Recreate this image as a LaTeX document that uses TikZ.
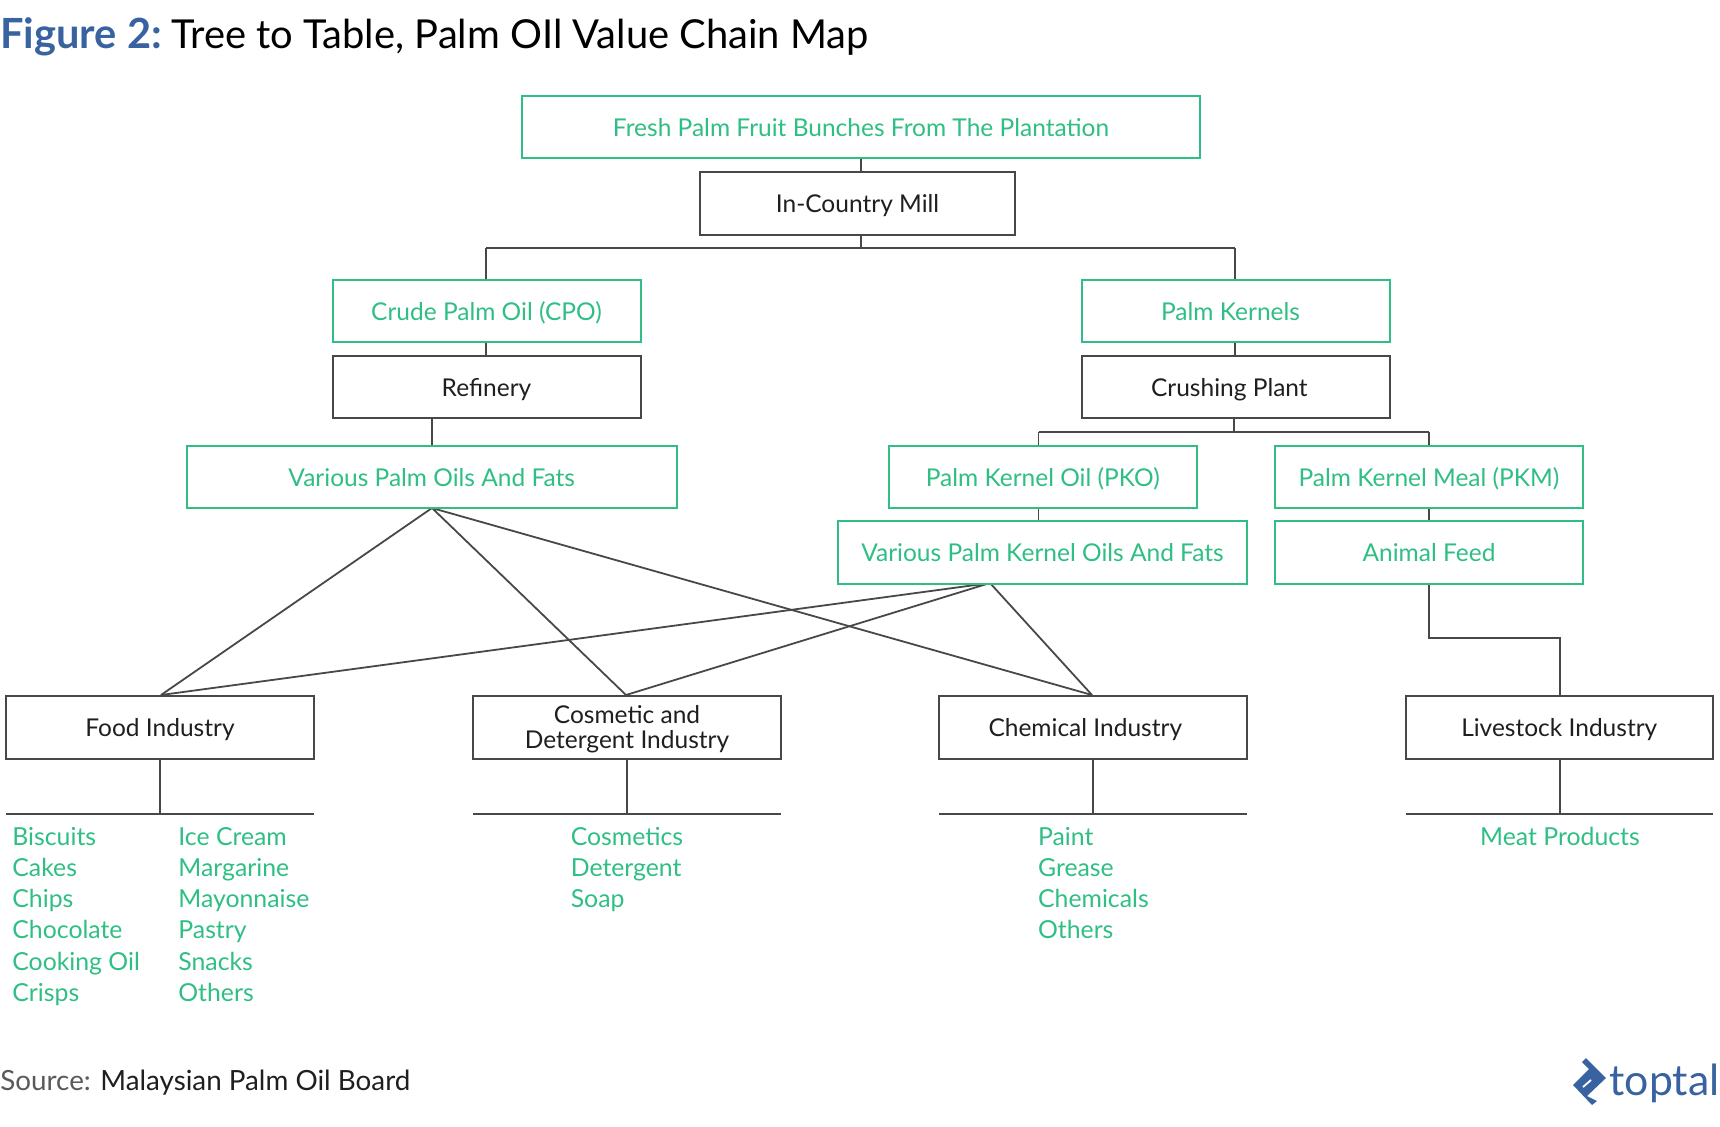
\documentclass[tikz,border=0pt]{standalone}
\usepackage{fontspec}
\setmainfont{Lato}
\definecolor{tgreen}{HTML}{2FBF84}
\definecolor{tblue}{HTML}{3863A0}
\definecolor{tline}{HTML}{484848}
\definecolor{tink}{HTML}{1F1F1F}
\tikzset{
 px/.style={x=0.5pt,y=-0.5pt},
 gbox/.style={draw=tgreen,line width=1pt,fill=white,text=tgreen,inner sep=0pt,align=center,font=\fontsize{12.25}{12.6}\selectfont},
 kbox/.style={draw=tline,line width=1pt,fill=white,text=tink,inner sep=0pt,align=center,font=\fontsize{12.25}{12.6}\selectfont},
 conn/.style={draw=tline,line width=0.9pt},
 item/.style={text=tgreen,inner sep=0pt,anchor=base west,font=\fontsize{12.4}{12}\selectfont},
}
\newcommand{\bx}[7]{\node[#1,minimum width=#5*0.5pt-#3*0.5pt,minimum height=#6*0.5pt-#4*0.5pt,anchor=north west] (#2) at (#3-1,#4-1) {#7};}
\newcommand{\tx}[1]{\rule[-0.8pt]{0pt}{11pt}\smash{#1}}
\begin{document}
\begin{tikzpicture}[px]
\useasboundingbox (0,0) rectangle (1720,1126);
\node[inner sep=0pt,anchor=base west,font=\fontsize{20.8}{22}\selectfont\bfseries,text=tblue] (t1) at (0,48) {Figure 2:};
\node[inner sep=0pt,anchor=base west,font=\fontsize{19.95}{22}\selectfont,text=black] (t2) at (171,48) {Tree to Table, Palm OIl Value Chain Map};
% connectors first
\coordinate (busM) at (861,248);
\coordinate (busL) at (486,248);
\coordinate (busR) at (1235,248);
\coordinate (kbL) at (1038.5,432);
\coordinate (kbR) at (1429,432);
\coordinate (kbM) at (1234,432);
\coordinate (various) at (432,508);
\coordinate (kvarious) at (990,583);
\coordinate (foodT) at (161,695);
\coordinate (cosT) at (626,695);
\coordinate (chemT) at (1092,695);
\coordinate (foodH) at (160,814);
\coordinate (cosH) at (627,814);
\coordinate (chemH) at (1093,814);
\coordinate (liveH) at (1560,814);
\draw[conn] (various) -- (foodT) (various) -- (cosT) (various) -- (chemT);
\draw[conn] (kvarious) -- (foodT) (kvarious) -- (cosT) (kvarious) -- (chemT);
\draw[conn] (861,158) -- (busM) (busL) -- (busR) (busL) -- (486,280) (busR) -- (1235,280);
\draw[conn] (486,342) -- (486,356) (1235,342) -- (1235,356);
\draw[conn] (432,418) -- (432,446);
\draw[conn] (kbM) -- (1234,418) (kbL) -- (kbR) (kbL) -- (1038.5,446) (kbR) -- (1429,446);
\draw[conn] (1038.5,508) -- (1038.5,521) (1429,508) -- (1429,521);
\draw[conn] (1429,583.5) -- (1429,638) -- (1560,638) -- (1560,696);
\bx{gbox}{fresh}{522}{95.5}{1200}{158}{\tx{Fresh Palm Fruit Bunches From The Plantation}}
\bx{kbox}{mill}{700}{172}{1015}{235}{\tx{In-Country Mill}}
\bx{gbox}{cpo}{332.5}{280}{640.5}{342}{\tx{Crude Palm Oil (CPO)}}
\bx{gbox}{kern}{1082}{280}{1390}{342}{\tx{Palm Kernels\hspace*{5.5pt}}}
\bx{kbox}{ref}{332.5}{355.5}{640.5}{418}{\tx{Refinery}}
\bx{kbox}{crush}{1082}{355.5}{1390}{418}{\tx{Crushing Plant\hspace*{6.6pt}}}
\bx{gbox}{vpo}{186.5}{445.5}{677}{508}{\tx{Various Palm Oils And Fats}}
\bx{gbox}{pko}{888.5}{445.5}{1197}{508}{\tx{Palm Kernel Oil (PKO)}}
\bx{gbox}{pkm}{1275}{445.5}{1583}{508}{\tx{Palm Kernel Meal (PKM)}}
\bx{gbox}{vpk}{838}{521}{1247}{583.5}{\tx{Various Palm Kernel Oils And Fats}}
\bx{gbox}{feed}{1275}{521}{1583}{583.5}{\tx{Animal Feed}}
\bx{kbox}{food}{6}{696}{314}{758.5}{\tx{Food Industry}}
\bx{kbox}{cos}{473}{696}{781}{758.5}{\rule{0pt}{11.2pt}Cosmetic and\\Detergent Industry}
\bx{kbox}{chem}{939}{696}{1247}{758.5}{\tx{Chemical Industry\hspace*{7.7pt}}}
\bx{kbox}{live}{1405.5}{696}{1713}{758.5}{\tx{Livestock Industry}}
\draw[conn] (food.south -| foodH) -- (foodH) (cos.south -| cosH) -- (cosH) (chem.south -| chemH) -- (chemH) (live.south -| liveH) -- (liveH);
\draw[draw=tline,line width=0.6pt] (6,814) -- (314,814);
\draw[conn] (473,814) -- (781,814) (939,814) -- (1247,814) (1405.5,814) -- (1713,814);
% items
\foreach \n/\lab/\r in {a/Biscuits/0,b/Cakes/1,c/Chips/2,d/Chocolate/3,e/Cooking Oil/4,f/Crisps/5}
  \node[item] (l\n) at (12,845+31.3*\r) {\lab};
\foreach \n/\lab/\r in {a/Ice Cream/0,b/Margarine/1,c/Mayonnaise/2,d/Pastry/3,e/Snacks/4,f/Others/5}
  \node[item] (m\n) at (178,845+31.3*\r) {\lab};
\foreach \n/\lab/\r in {a/Cosmetics/0,b/Detergent/1,c/Soap/2}
  \node[item] (c\n) at (570.4,845+31.3*\r) {\lab};
\foreach \n/\lab/\r in {a/Paint/0,b/Grease/1,c/Chemicals/2,d/Others/3}
  \node[item] (h\n) at (1037.7,845+31.3*\r) {\lab};
\node[item,anchor=base] (meat) at (1560,845) {Meat Products};
\node[inner sep=0pt,anchor=base west,font=\fontsize{13.9}{14}\selectfont,text=tline!90] (s1) at (0,1090) {Source:};
\node[inner sep=0pt,anchor=base west,font=\fontsize{13.9}{14}\selectfont,text=tink] (s2) at (100,1090) {Malaysian Palm Oil Board};
% logo
\fill[tblue] (1586,1058) -- (1606,1078) -- (1587,1096) -- (1597,1101) -- (1592,1105) -- (1573,1085) -- (1589,1069) -- (1582,1062) -- cycle;
\draw[white,line width=0.9pt] (1583,1087) -- (1591,1080);
\node[inner sep=0pt,anchor=base east,font=\fontsize{21.4}{22}\selectfont,text=tblue] (logo) at (1720,1095) {toptal};
\end{tikzpicture}
\end{document}
